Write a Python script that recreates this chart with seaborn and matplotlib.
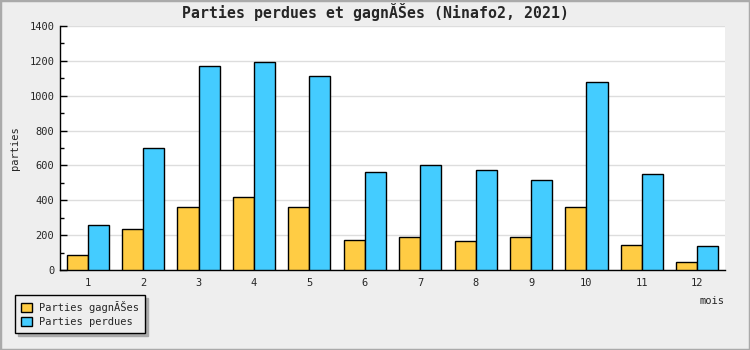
import matplotlib
matplotlib.use("Agg")
import matplotlib.pyplot as plt
import seaborn as sns
import pandas as pd
from matplotlib.patches import Rectangle
from matplotlib.ticker import MultipleLocator, FixedLocator

months = [1, 2, 3, 4, 5, 6, 7, 8, 9, 10, 11, 12]
gagnees = [84, 233, 359, 421, 364, 175, 187, 164, 187, 364, 141, 44]
perdues = [261, 702, 1171, 1194, 1114, 563, 605, 576, 519, 1080, 553, 135]
series_names = ["Parties gagnĂŠes", "Parties perdues"]
title = "Parties perdues et gagnĂŠes (Ninafo2, 2021)"

df = pd.DataFrame({
    "mois": [str(m) for m in months] * 2,
    "parties": gagnees + perdues,
    "serie": [series_names[0]] * len(months) + [series_names[1]] * len(months),
})

sns.set_style("white")
plt.rcParams["font.family"] = ["DejaVu Sans Mono", "DejaVu Sans"]

fig = plt.figure(figsize=(7.5, 3.5), dpi=100, facecolor="#eeeeee")
ax = fig.add_axes([60 / 750, 80 / 350, 665 / 750, 244 / 350])
ax.set_facecolor("white")

palette = {series_names[0]: "#ffcc44", series_names[1]: "#44ccff"}
sns.barplot(data=df, x="mois", y="parties", hue="serie", palette=palette,
            width=0.76, gap=0, edgecolor="black", linewidth=1.0, saturation=1,
            ax=ax, zorder=3)

ax.set_ylim(0, 1400)
ax.set_xlim(-0.5, 11.5)
ax.yaxis.set_major_locator(MultipleLocator(200))
ax.yaxis.set_minor_locator(MultipleLocator(100))
ax.grid(axis="y", color="#dddddd", linewidth=1, zorder=0)
ax.set_axisbelow(True)

ax.xaxis.set_minor_locator(FixedLocator([i + 0.5 for i in range(-1, 12)]))
ax.tick_params(axis="x", which="major", length=0, pad=6, labelsize=7.5)
ax.tick_params(axis="x", which="minor", direction="in", length=5, width=1, color="black")
ax.tick_params(axis="y", which="major", direction="in", length=5, width=1, color="black",
               labelsize=7.5, pad=4, left=True)
ax.tick_params(axis="y", which="minor", direction="in", length=3, width=1, color="black", left=True)

for s in ["top", "right"]:
    ax.spines[s].set_visible(False)
for s in ["left", "bottom"]:
    ax.spines[s].set_color("black")
    ax.spines[s].set_linewidth(1)

ax.set_xlabel("")
ax.set_ylabel("")
fig.text(15 / 750, 1 - 148 / 350, "parties", rotation=90, ha="center", va="center", fontsize=7.5)
fig.text(725 / 750, 1 - 301 / 350, "mois", ha="right", va="center", fontsize=7.5)
fig.text(375 / 750, 1 - 12 / 350, title, ha="center", va="center", fontsize=10.7, fontweight="bold")

handles, labels = ax.get_legend_handles_labels()
if ax.legend_:
    ax.legend_.remove()
leg = fig.legend(handles, labels, loc="upper left",
                 bbox_to_anchor=(15 / 750, 1 - 295 / 350), bbox_transform=fig.transFigure,
                 borderaxespad=0, frameon=True, fancybox=False,
                 shadow={"color": "#aaaaaa", "alpha": 1}, fontsize=7.5,
                 handlelength=1.0, handleheight=1.0, handletextpad=0.7,
                 borderpad=0.6, labelspacing=0.35)
leg.get_frame().set_edgecolor("black")
leg.get_frame().set_linewidth(1)
leg.get_frame().set_facecolor("#eeeeee")

fig.patches.append(Rectangle((0, 0), 1, 1, transform=fig.transFigure, fill=False,
                             edgecolor="#aaaaaa", linewidth=2.5, zorder=10))

fig.savefig("out.png", dpi=100, facecolor=fig.get_facecolor())
